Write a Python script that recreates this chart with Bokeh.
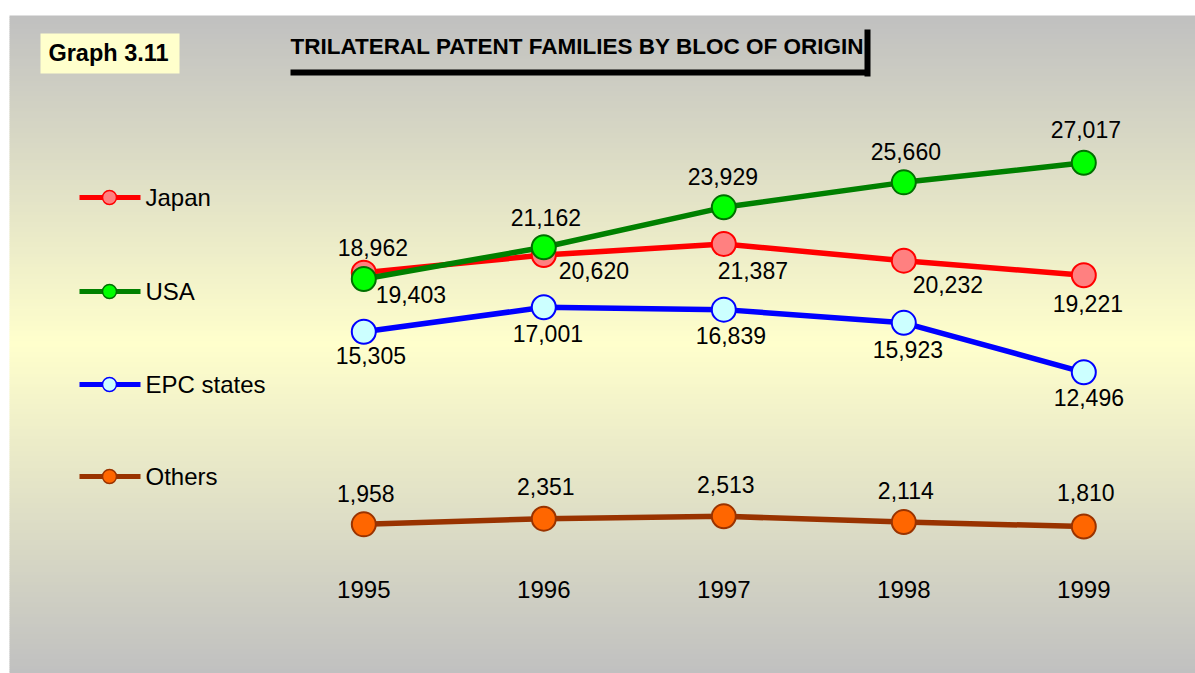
from bokeh.plotting import figure
from bokeh.models import Range1d, ColumnDataSource
from bokeh.core.properties import value
from bokeh.embed import file_html
from bokeh.resources import INLINE

# ---------------- data ----------------
years = [1995, 1996, 1997, 1998, 1999]
year_labels = ["1995", "1996", "1997", "1998", "1999"]
japan = [19403, 20620, 21387, 20232, 19221]
usa = [18962, 21162, 23929, 25660, 27017]
epc = [15305, 17001, 16839, 15923, 12496]
others = [1958, 2351, 2513, 2114, 1810]
series_names = ["Japan", "USA", "EPC states", "Others"]
title_text = "TRILATERAL PATENT FAMILIES BY BLOC OF ORIGIN"
graph_tag = "Graph 3.11"

# ---------------- layout / style ----------------
W, H = 1195, 673
FONT = "Liberation Sans"

p = figure(width=W, height=H, output_backend="svg", toolbar_location=None,
           x_range=Range1d(1992.98167, 1999.62056),
           y_range=Range1d(-8379.0, 38263.2),
           x_axis_location=None, y_axis_location=None,
           min_border=0, outline_line_color=None,
           background_fill_color="white", border_fill_color="white")
p.grid.visible = False
p.extra_x_ranges = {"px": Range1d(0, W)}
p.extra_y_ranges = {"py": Range1d(H, 0)}

# background gradient (gray -> pale yellow -> gray)
gray = (192, 192, 192)
yellow = (255, 255, 204)
top, bottom = 15, 672
center = (top + bottom) / 2.0
half = (bottom - top) / 2.0
L, R, T, B, C = [], [], [], [], []
step = 2
yy = top
while yy < bottom:
    t = min(1.0, abs((yy + step / 2.0) - center) / half)
    col = tuple(int(round(yellow[k] + (gray[k] - yellow[k]) * t)) for k in range(3))
    L.append(9); R.append(W); T.append(yy); B.append(min(yy + step, bottom) + 0.5)
    C.append("#%02x%02x%02x" % col)
    yy += step
p.quad(left=L, right=R, top=T, bottom=B, fill_color=C, line_color=None,
       x_range_name="px", y_range_name="py")

# "Graph 3.11" box
p.quad(left=[40], right=[179], top=[33], bottom=[73], fill_color="#FFFFCC",
       line_color=None, x_range_name="px", y_range_name="py")
p.text(x=[108], y=[52], text=[graph_tag], text_font=value(FONT), text_font_size="23.5px",
       text_font_style="bold", text_baseline="middle", text_align="center",
       text_color="black", x_range_name="px", y_range_name="py")

# title + underline bracket
p.text(x=[290], y=[46], text=[title_text], text_font=value(FONT), text_font_size="22.5px",
       text_font_style="bold", text_baseline="middle", text_align="left",
       text_color="black", x_range_name="px", y_range_name="py")
p.quad(left=[290], right=[869], top=[69], bottom=[75], fill_color="black",
       line_color=None, x_range_name="px", y_range_name="py")
p.quad(left=[864], right=[870], top=[29], bottom=[76], fill_color="black",
       line_color=None, x_range_name="px", y_range_name="py")

styles = {
    "Japan": dict(line="#FF0000", fill="#FF8080", edge="#FF0000"),
    "USA": dict(line="#008000", fill="#00FF00", edge="#007000"),
    "EPC states": dict(line="#0000FF", fill="#CCFFFF", edge="#0000FF"),
    "Others": dict(line="#993300", fill="#FF6600", edge="#993300"),
}
series_vals = {"Japan": japan, "USA": usa, "EPC states": epc, "Others": others}
label_dx = {
    "Japan": [47, 50, 29, 44, 4],
    "USA": [9, 2, -1, 2, 2],
    "EPC states": [7, 4, 7, 4, 5],
    "Others": [2, 2, 2, 2, 2],
}
label_dy = {
    "Japan": [22, 15, 26, 24, 28],
    "USA": [-31, -30, -31, -31, -33],
    "EPC states": [24, 26, 26, 27, 25],
    "Others": [-31, -32, -32, -32, -34],
}

for name in ["Others", "EPC states", "Japan", "USA"]:
    st = styles[name]
    vals = series_vals[name]
    p.line(years, vals, line_color=st["line"], line_width=5.5)
    p.scatter(years, vals, size=24, fill_color=st["fill"], line_color=st["edge"],
              line_width=2)

for name in ["Others", "EPC states", "Japan", "USA"]:
    vals = series_vals[name]
    src = ColumnDataSource(dict(x=years, y=vals, t=[f"{v:,}" for v in vals],
                                dx=label_dx[name], dy=label_dy[name]))
    p.text(x="x", y="y", text="t", x_offset="dx", y_offset="dy", source=src,
           text_font=value(FONT), text_font_size="23px", text_align="center",
           text_baseline="middle", text_color="black")

# category labels along the bottom
p.text(x=years, y=[589] * len(years), text=year_labels, text_font=value(FONT),
       text_font_size="24px", text_align="center", text_baseline="middle",
       text_color="black", y_range_name="py")

# legend (drawn manually at left)
leg_y = [197, 291, 384, 476]
for name, ly in zip(series_names, leg_y):
    st = styles[name]
    p.line([79, 140], [ly, ly], line_color=st["line"], line_width=5,
           x_range_name="px", y_range_name="py")
    p.scatter([109], [ly], size=14, fill_color=st["fill"], line_color=st["edge"],
              line_width=1.5, x_range_name="px", y_range_name="py")
    p.text(x=[145], y=[ly], text=[name], text_font=value(FONT), text_font_size="24px",
           text_align="left", text_baseline="middle", text_color="black",
           x_range_name="px", y_range_name="py")

open("out.html", "w").write(file_html(p, INLINE))
